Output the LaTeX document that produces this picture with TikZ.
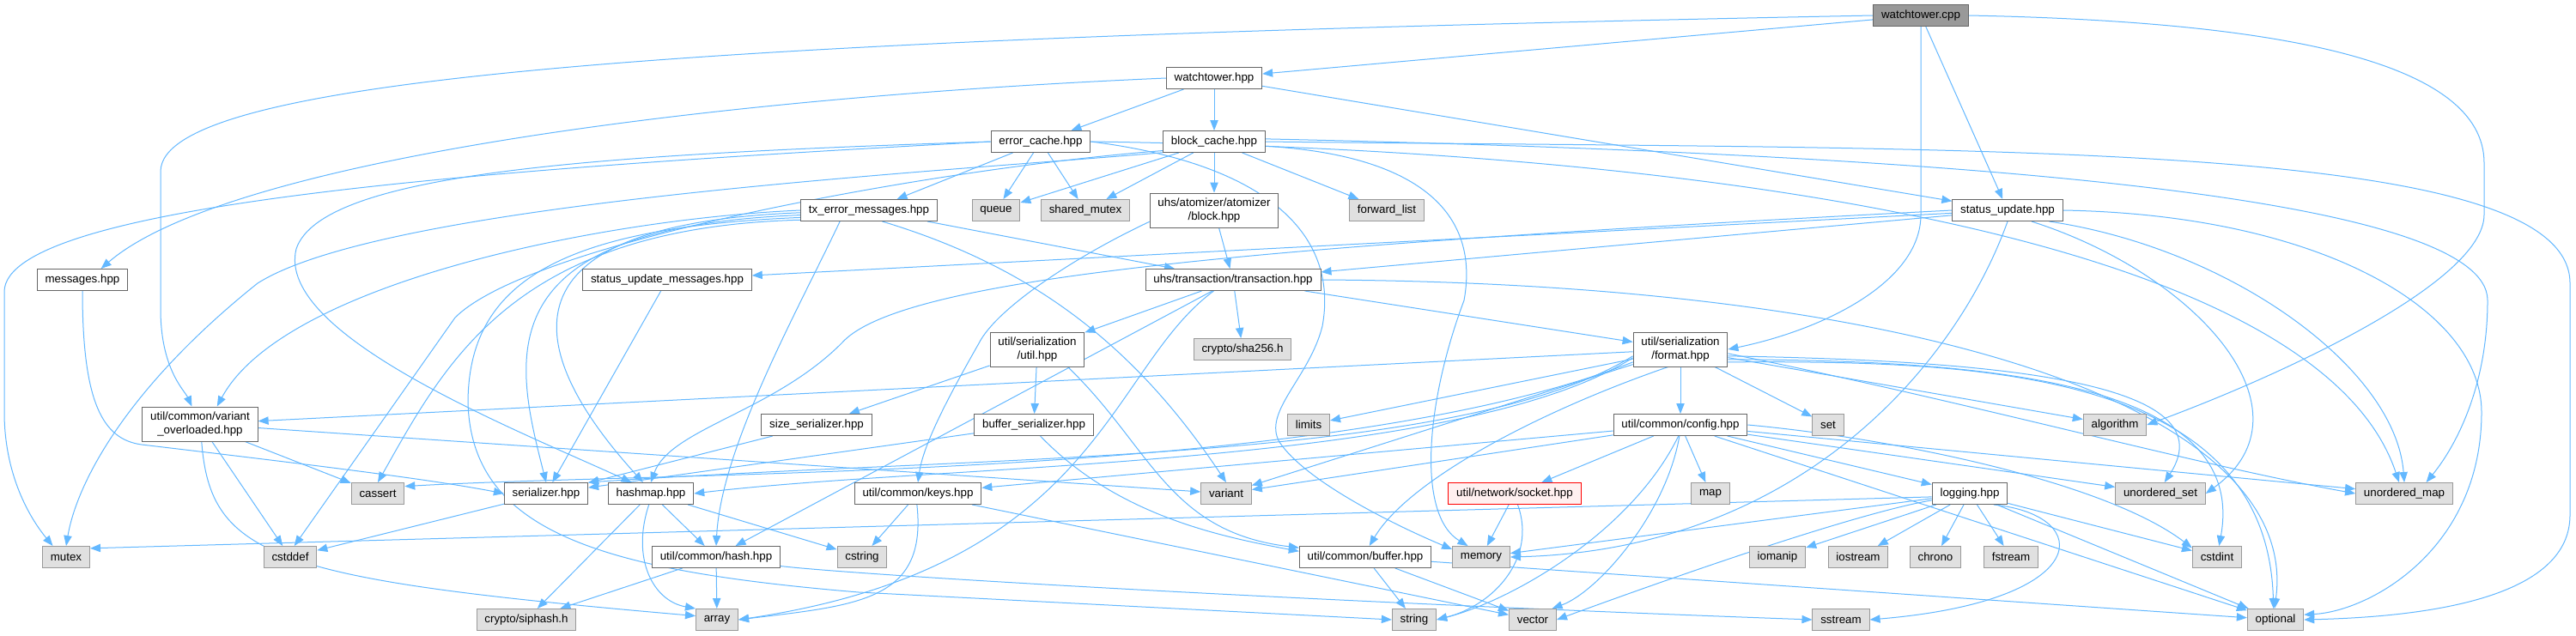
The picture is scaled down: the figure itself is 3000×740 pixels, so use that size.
\documentclass[tikz,border=0pt]{standalone}
\usepackage{fontspec}
\setmainfont{Liberation Sans}
\usetikzlibrary{arrows.meta}
\definecolor{depblue}{HTML}{63B8FF}
\definecolor{fileline}{HTML}{666666}
\definecolor{sysline}{HTML}{999999}
\definecolor{sysfill}{HTML}{E0E0E0}
\definecolor{rootfill}{HTML}{999999}
\definecolor{warnline}{HTML}{FF0000}
\definecolor{warnfill}{HTML}{FFF0F0}
\pgfdeclarelayer{paper}
\pgfdeclarelayer{wires}
\pgfsetlayers{paper,wires,main}

\begin{document}
\begin{tikzpicture}[
    x=0.75pt,y=-0.75pt,
    hdr/.style={draw=fileline,fill=white,line width=0.75pt,minimum height=18.75pt,
      inner xsep=7pt,inner ysep=1pt,align=center,font=\fontsize{10}{12}\selectfont},
    hdrtwo/.style={hdr,minimum height=30pt},
    sys/.style={hdr,draw=sysline,fill=sysfill},
    root/.style={hdr,fill=rootfill},
    warn/.style={hdr,draw=warnline,fill=warnfill},
    dep/.style={draw=depblue,line width=0.75pt,-{Triangle[length=9pt,width=7pt]}}
  ]
  \begin{pgfonlayer}{paper}
    \fill[white] (0,0) rectangle (3000,740);
  \end{pgfonlayer}
  \useasboundingbox (0,0) rectangle (3000,740);

  \node[root] (cpp) at (2237,18) {watchtower.cpp};
  \node[hdr] (wthpp) at (1414,91) {watchtower.hpp};
  \node[hdr] (errc) at (1212,165) {error\_cache.hpp};
  \node[hdr] (blkc) at (1414,165) {block\_cache.hpp};
  \node[hdr] (msgs) at (96,326) {messages.hpp};
  \node[hdr] (txerr) at (1012,245) {tx\_error\_messages.hpp};
  \node[sys] (queue) at (1160,245) {queue};
  \node[sys] (shmutex) at (1264,245) {shared\_mutex};
  \node[hdrtwo] (atomblk) at (1414,245) {uhs/atomizer/atomizer\\/block.hpp};
  \node[sys] (fwdlist) at (1615,245) {forward\_list};
  \node[hdr] (suhpp) at (2338,245) {status\_update.hpp};
  \node[hdr] (sumsgs) at (777,326) {status\_update\_messages.hpp};
  \node[hdr] (trans) at (1436,326) {uhs/transaction/transaction.hpp};
  \node[hdrtwo] (utilhpp) at (1208,407) {util/serialization\\/util.hpp};
  \node[sys] (sha) at (1447,407) {crypto/sha256.h};
  \node[hdrtwo] (format) at (1957,407) {util/serialization\\/format.hpp};
  \node[hdrtwo] (varov) at (233,494) {util/common/variant\\\_overloaded.hpp};
  \node[hdr] (sizeser) at (951,495) {size\_serializer.hpp};
  \node[hdr] (bufser) at (1204,495) {buffer\_serializer.hpp};
  \node[sys] (limits) at (1524,495) {limits};
  \node[hdr] (config) at (1957,495) {util/common/config.hpp};
  \node[sys] (set) at (2129,495) {set};
  \node[sys] (algorithm) at (2463,495) {algorithm};
  \node[sys] (cassert) at (440,575) {cassert};
  \node[hdr] (serializer) at (636,575) {serializer.hpp};
  \node[hdr] (hashmap) at (758,575) {hashmap.hpp};
  \node[hdr] (keys) at (1069,575) {util/common/keys.hpp};
  \node[sys] (variant) at (1428,575) {variant};
  \node[warn] (socket) at (1764,575) {util/network/socket.hpp};
  \node[sys] (map) at (1992,575) {map};
  \node[hdr] (logging) at (2294,575) {logging.hpp};
  \node[sys] (uset) at (2516,575) {unordered\_set};
  \node[sys] (umap) at (2800,575) {unordered\_map};
  \node[sys] (mutex) at (77,649) {mutex};
  \node[sys] (cstddef) at (338,649) {cstddef};
  \node[hdr] (hash) at (834,649) {util/common/hash.hpp};
  \node[sys] (cstring) at (1004,649) {cstring};
  \node[hdr] (buffer) at (1590,649) {util/common/buffer.hpp};
  \node[sys] (memory) at (1725,649) {memory};
  \node[sys] (iomanip) at (2070,649) {iomanip};
  \node[sys] (iostream) at (2164,649) {iostream};
  \node[sys] (chrono) at (2254,649) {chrono};
  \node[sys] (fstream) at (2342,649) {fstream};
  \node[sys] (cstdint) at (2582,649) {cstdint};
  \node[sys] (siphash) at (613,722) {crypto/siphash.h};
  \node[sys] (array) at (835,722) {array};
  \node[sys] (string) at (1647,722) {string};
  \node[sys] (vector) at (1785,722) {vector};
  \node[sys] (sstream) at (2144,722) {sstream};
  \node[sys] (optional) at (2650,722) {optional};

  \begin{pgfonlayer}{wires}
    \foreach \a/\b in {cpp/wthpp,cpp/suhpp,wthpp/errc,wthpp/blkc,wthpp/suhpp,
        errc/txerr,errc/queue,errc/shmutex,blkc/queue,blkc/shmutex,blkc/fwdlist,
        blkc/atomblk,atomblk/trans,txerr/trans,suhpp/trans,suhpp/sumsgs,
        sumsgs/serializer,trans/utilhpp,trans/sha,trans/format,utilhpp/sizeser,
        utilhpp/bufser,sizeser/serializer,bufser/serializer,format/config,
        format/limits,format/set,format/algorithm,format/varov,format/variant,
        config/socket,config/map,config/logging,config/keys,config/variant,
        config/uset,config/umap,config/optional,socket/memory,logging/iomanip,
        logging/iostream,logging/chrono,logging/fstream,logging/cstdint,
        logging/optional,logging/memory,varov/cassert,varov/cstddef,
        varov/variant,serializer/cstddef,hashmap/hash,hashmap/siphash,
        hashmap/cstring,hash/siphash,hash/array,keys/cstring,keys/vector,
        buffer/string,buffer/vector,buffer/optional}
      \draw[dep] (\a) -- (\b);
    \draw[dep] (trans) -- (hash.30);
    \draw[dep] (logging.-175) -- (mutex.20);

    \draw[dep] (cpp.west) .. controls (800,45) and (187,90) .. (187,200)
      -- (187,360) .. controls (187,430) and (215,455) .. (varov.115);
    \draw[dep] (cpp.east) .. controls (2650,25) and (2893,70) .. (2893,190)
      -- (2893,250) .. controls (2893,330) and (2650,440) .. (algorithm.east);
    \draw[dep] (cpp.south) -- (2237,250) .. controls (2237,330) and (2120,385) .. (format.east);
    \draw[dep] (wthpp.west) .. controls (800,115) and (260,190) .. (msgs.31);
    \draw[dep] (msgs.south) .. controls (96,470) and (120,512) .. (165,518)
      .. controls (350,540) and (500,558) .. (serializer.west);

    \draw[dep] (errc.west) .. controls (600,195) and (5,235) .. (5,340)
      -- (5,480) .. controls (5,560) and (40,610) .. (mutex.140);
    \draw[dep] (errc.west) .. controls (700,180) and (375,200) .. (345,290)
      .. controls (320,390) and (600,500) .. (hashmap.150);
    \draw[dep] (errc.east) .. controls (1470,190) and (1560,270) .. (1540,380)
      .. controls (1525,440) and (1470,480) .. (1490,515)
      .. controls (1520,560) and (1620,610) .. (memory.165);
    \draw[dep] (errc.east) .. controls (2000,175) and (2700,280) .. (umap.115);

    \draw[dep] (blkc.-168) .. controls (1100,200) and (450,235) .. (300,330)
      .. controls (150,450) and (90,560) .. (mutex.north);
    \draw[dep] (blkc.-170) .. controls (1100,195) and (620,280) .. (530,370) -- (cstddef.70);
    \draw[dep] (blkc.-5) .. controls (1640,180) and (1725,240) .. (1705,350)
      .. controls (1660,470) and (1650,600) .. (memory.140);
    \draw[dep] (blkc.east) .. controls (2300,175) and (2993,160) .. (2993,330)
      -- (2993,600) .. controls (2993,690) and (2850,718) .. (optional.east);
    \draw[dep] (blkc.3) .. controls (2300,180) and (2897,230) .. (2897,350)
      .. controls (2897,450) and (2860,520) .. (umap.27);

    \draw[dep] (suhpp.east) .. controls (2700,250) and (2890,360) .. (2890,480)
      .. controls (2890,640) and (2760,712) .. (optional.10);
    \draw[dep] (suhpp.-15) .. controls (2600,290) and (2790,430) .. (umap.north);
    \draw[dep] (suhpp.-25) .. controls (2560,320) and (2700,480) .. (uset.east);
    \draw[dep] (suhpp.south) .. controls (2280,420) and (2100,640) .. (memory.east);
    \draw[dep] (suhpp.west) .. controls (1500,285) and (1050,320) .. (980,400)
      .. controls (900,480) and (780,500) .. (hashmap.north);

    \draw[dep] (txerr.west) .. controls (700,255) and (330,330) .. (varov.46);
    \draw[dep] (txerr.-172) .. controls (600,265) and (520,420) .. (cassert.north);
    \draw[dep] (txerr.-176) .. controls (560,265) and (600,420) .. (serializer.north);
    \draw[dep] (txerr.-178) .. controls (560,262) and (620,420) .. (hashmap.125);
    \draw[dep] (txerr.-159) .. controls (930,360) and (840,520) .. (hash.north);
    \draw[dep] (txerr.-40) .. controls (1200,310) and (1320,400) .. (variant.north);
    \draw[dep] (txerr.-174) .. controls (650,265) and (545,330) .. (545,470)
      .. controls (550,620) and (700,665) .. (1000,690) -- (string.west);

    \draw[dep] (atomblk.-170) .. controls (1250,300) and (1160,360) .. (1140,400)
      .. controls (1100,470) and (1075,520) .. (keys.north);
    \draw[dep] (trans.-150) .. controls (1290,430) and (1280,660) .. (array.east);
    \draw[dep] (trans.east) .. controls (2250,330) and (2680,480) .. (optional.95);
    \draw[dep] (utilhpp.-30) .. controls (1340,520) and (1360,620) .. (buffer.172);
    \draw[dep] (bufser.-60) .. controls (1300,600) and (1420,625) .. (buffer.175);

    \draw[dep] (format.-172) .. controls (1700,540) and (1150,530) .. (serializer.north east);
    \draw[dep] (format.-170) .. controls (1700,545) and (1100,540) .. (hashmap.east);
    \draw[dep] (format.-165) .. controls (1550,560) and (800,548) .. (cassert.15);
    \draw[dep] (format.-125) .. controls (1790,480) and (1640,560) .. (buffer.70);
    \draw[dep] (format.-15) .. controls (2300,420) and (2640,430) .. (optional.100);
    \draw[dep] (format.-12) .. controls (2300,420) and (2620,440) .. (cstdint.80);
    \draw[dep] (format.-8) .. controls (2300,420) and (2600,440) .. (uset.70);
    \draw[dep] (format.-5) .. controls (2300,470) and (2550,540) .. (umap.west);

    \draw[dep] (config.east) .. controls (2200,510) and (2450,560) .. (cstdint.160);
    \draw[dep] (config.-95) .. controls (1940,600) and (1860,690) .. (vector.30);
    \draw[dep] (config.-100) .. controls (1900,620) and (1760,700) .. (string.east);
    \draw[dep] (socket.-75) .. controls (1790,650) and (1740,705) .. (string.east);
    \draw[dep] (logging.-25) .. controls (2440,600) and (2440,700) .. (sstream.east);
    \draw[dep] (logging.-170) .. controls (2150,600) and (1900,690) .. (vector.east);

    \draw[dep] (varov.-85) .. controls (245,650) and (320,675) .. (array.170);
    \draw[dep] (keys.-95) .. controls (1080,700) and (1000,705) .. (array.east);
    \draw[dep] (hashmap.-100) .. controls (735,650) and (760,700) .. (array.north west);
    \draw[dep] (hash.-8) .. controls (1000,670) and (1500,700) .. (sstream.west);
  \end{pgfonlayer}
\end{tikzpicture}
\end{document}
